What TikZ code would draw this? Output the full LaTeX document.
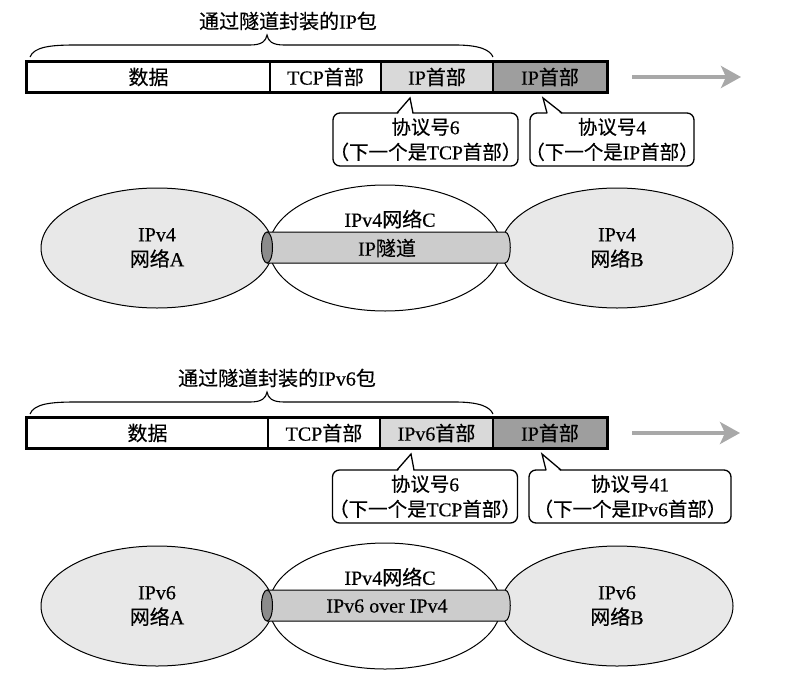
\documentclass[tikz,border=0pt]{standalone}
\usepackage{fontspec}
\setmainfont{Liberation Serif}[FakeBold=0.4]
\newfontfamily\cjk{Noto Sans CJK SC}[FakeBold=0.3]
\usetikzlibrary{arrows.meta,shapes.geometric}
\newcommand\zh[1]{{\cjk #1}}
\definecolor{hdrlight}{gray}{0.85}
\definecolor{hdrdark}{gray}{0.62}
\definecolor{netgray}{gray}{0.91}
\definecolor{tubegray}{gray}{0.80}
\definecolor{capgray}{gray}{0.55}
\definecolor{arrowgray}{gray}{0.66}
\tikzset{
  every node/.style={font=\fontsize{20}{25}\selectfont, inner sep=0pt},
  seg/.style={draw, line width=1.6pt, minimum height=30pt},
  outerbar/.style={line width=2.2pt},
  bracepath/.style={line width=1.1pt},
  flowarrow/.style={line width=3.5pt, arrowgray, -{Stealth[length=20pt,width=22pt,inset=5pt]}},
  callout/.style={draw, line width=1.3pt, rounded corners=7pt, fill=white, minimum height=53pt},
  callouttext/.style={align=center, font=\fontsize{19.5}{25}\selectfont},
  pointerline/.style={line width=1.3pt},
  sidenet/.style={draw, line width=1pt, ellipse, fill=netgray, minimum width=232pt, minimum height=120pt, align=center},
  midnet/.style={draw, line width=1pt, ellipse, fill=white, minimum width=232pt, minimum height=126pt},
  tube/.style={draw, line width=1pt, fill=tubegray},
  tubecap/.style={draw, line width=1pt, fill=capgray},
}
\begin{document}
\begin{tikzpicture}[x=1pt,y=-1pt]
\useasboundingbox (0,0) rectangle (786,674);

% ================= top panel =================
\node (atitle) at (288,21) {\zh{通过隧道封装的}IP\zh{包}};
\draw[bracepath] (30,57) .. controls (34,47) and (50,45) .. (75,45) -- (250,45)
  .. controls (262,45) and (266,41) .. (267,35) .. controls (268,41) and (272,45) .. (284,45)
  -- (455,45) .. controls (480,45) and (490,50) .. (493,57);

\node[seg, minimum width=243pt] (adata) at (148.5,77) {\zh{数据}};
\node[seg, minimum width=111pt] (atcp) at (325.5,77) {TCP\zh{首部}};
\node[seg, minimum width=112pt, fill=hdrlight] (aip1) at (437,77) {IP\zh{首部}};
\node[seg, minimum width=114pt, fill=hdrdark] (aip2) at (550,77) {IP\zh{首部}};
\draw[outerbar] (adata.north west) rectangle (aip2.south east);
\coordinate (aarrS) at (632,77);
\coordinate (aarrE) at (741,77);
\draw[flowarrow] (aarrS) -- (aarrE);

\node[callout, minimum width=185pt] (ac1) at (425.5,139.5) {};
\node[callouttext] (ac1t) at (ac1) {\zh{协议号}6\\\zh{（下一个是}TCP\zh{首部）}};
\fill[white] (397.8,114.2) -- (410,98) -- (412.4,114.2) -- cycle;
\draw[pointerline] (397,113) -- (410,98) -- (413,113);
\node[callout, minimum width=164pt] (ac2) at (612,139.5) {};
\node[callouttext] (ac2t) at (ac2) {\zh{协议号}4\\\zh{（下一个是}IP\zh{首部）}};
\fill[white] (547.6,114.2) -- (543,98) -- (561.3,114.2) -- cycle;
\draw[pointerline] (547,113) -- (543,98) -- (562,113);

\node[midnet] (anetC) at (385,248) {};
\node[sidenet] (anetA) at (157,248) {IPv4\\\zh{网络}A};
\node[sidenet] (anetB) at (617,248) {IPv4\\\zh{网络}B};
\draw[tube] (267,232) -- (505,232) .. controls (512,232) and (512,263) .. (505,263) -- (267,263);
\draw[tubecap] (267,247.5) ellipse [x radius=5.5, y radius=15.5];
\node (aClabel) at (390,219) {IPv4\zh{网络}C};
\node (atunnel) at (387,248) {IP\zh{隧道}};

% ================= bottom panel =================
\begin{scope}[shift={(0,357)}]
\node (btitle) at (277,21) {\zh{通过隧道封装的}IPv6\zh{包}};
\draw[bracepath] (30,57) .. controls (34,47) and (50,45) .. (75,45) -- (250,45)
  .. controls (262,45) and (266,41) .. (267,35) .. controls (268,41) and (272,45) .. (284,45)
  -- (455,45) .. controls (480,45) and (490,50) .. (493,57);

\node[seg, minimum width=241pt] (bdata) at (147.5,76) {\zh{数据}};
\node[seg, minimum width=112pt] (btcp) at (324,76) {TCP\zh{首部}};
\node[seg, minimum width=113pt, fill=hdrlight] (bip1) at (436.5,76) {IPv6\zh{首部}};
\node[seg, minimum width=114pt, fill=hdrdark] (bip2) at (550,76) {IP\zh{首部}};
\draw[outerbar] (bdata.north west) rectangle (bip2.south east);
\coordinate (barrS) at (632,76);
\coordinate (barrE) at (740,76);
\draw[flowarrow] (barrS) -- (barrE);

\node[callout, minimum width=185pt] (bc1) at (425,139.5) {};
\node[callouttext] (bc1t) at (bc1) {\zh{协议号}6\\\zh{（下一个是}TCP\zh{首部）}};
\fill[white] (397.8,114.2) -- (411,97) -- (413.4,114.2) -- cycle;
\draw[pointerline] (397,113) -- (411,97) -- (414,113);
\node[callout, minimum width=202pt] (bc2) at (630,139.5) {};
\node[callouttext] (bc2t) at (bc2) {\zh{协议号}41\\\zh{（下一个是}IPv6\zh{首部）}};
\fill[white] (546.6,114.2) -- (542,97) -- (560.3,114.2) -- cycle;
\draw[pointerline] (546,113) -- (542,97) -- (561,113);

\node[midnet] (bnetC) at (385,249) {};
\node[sidenet] (bnetA) at (157,249) {IPv6\\\zh{网络}A};
\node[sidenet] (bnetB) at (617,249) {IPv6\\\zh{网络}B};
\draw[tube] (267,233) -- (505,233) .. controls (512,233) and (512,264) .. (505,264) -- (267,264);
\draw[tubecap] (267,248.5) ellipse [x radius=5.5, y radius=15.5];
\node (bClabel) at (390,220) {IPv4\zh{网络}C};
\node (btunnel) at (387,249) {IPv6 over IPv4};
\end{scope}
\end{tikzpicture}
\end{document}
